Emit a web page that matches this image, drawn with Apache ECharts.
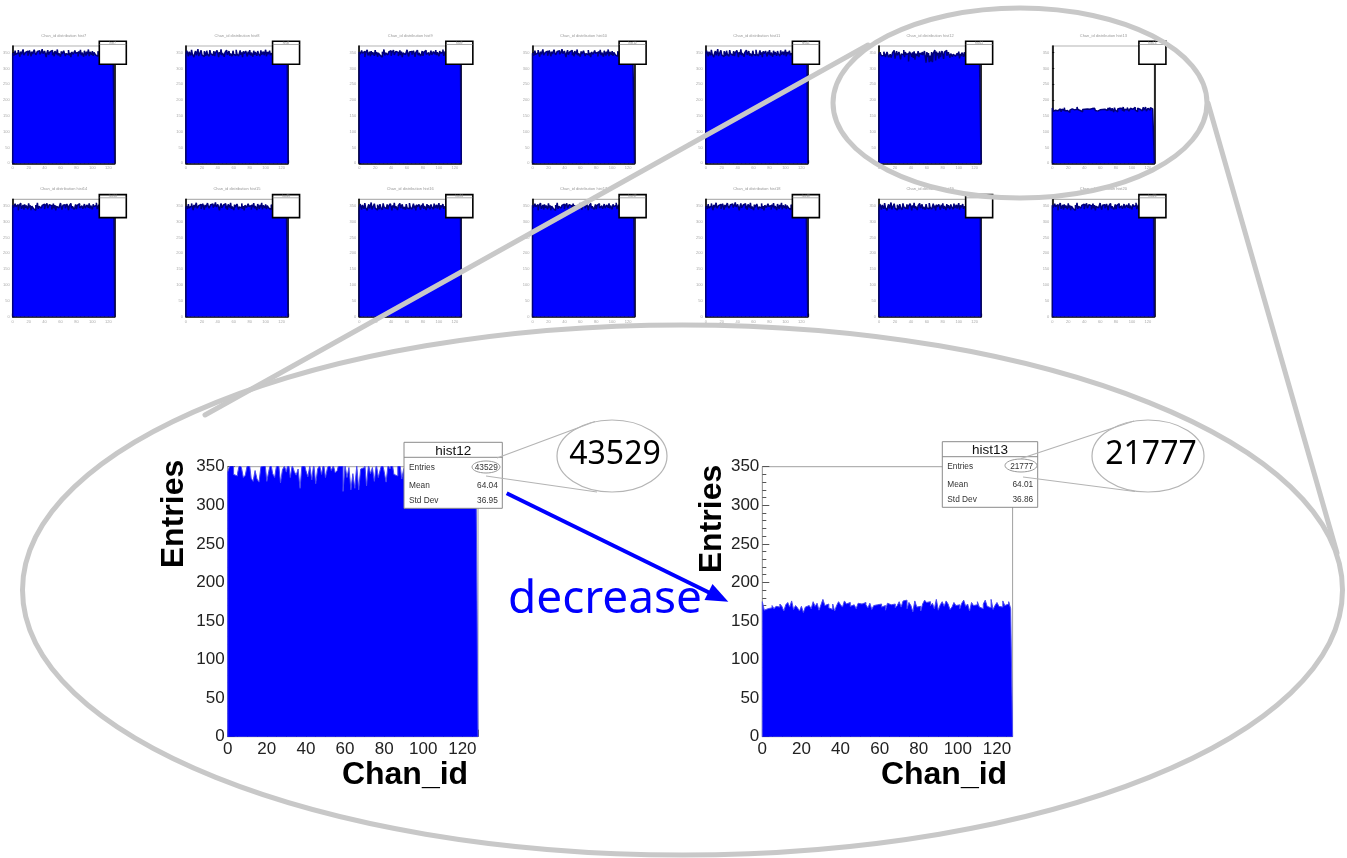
<!DOCTYPE html>
<html>
<head>
<meta charset="utf-8">
<style>
  html, body { margin: 0; padding: 0; background: #fff; }
  #chart { width: 1347px; height: 858px; }
</style>
<script src="https://cdn.jsdelivr.net/npm/echarts@6/dist/echarts.min.js"></script>
</head>
<body>
<div id="chart"></div>
<script>
// bin contents per channel (128 channels)
var hist12 = [
  343, 351, 352, 340, 338, 341, 353, 349, 336, 339, 352, 356, 335, 331, 345, 334,
  330, 350, 352, 357, 331, 344, 355, 341, 336, 352, 355, 329, 346, 351, 343, 358,
  336, 352, 344, 339, 347, 322, 353, 356, 345, 337, 351, 333, 354, 328, 347, 352,
  340, 355, 336, 348, 354, 345, 352, 342, 345, 355, 353, 318, 352, 336, 349, 320,
  341, 322, 352, 320, 347, 349, 358, 325, 353, 341, 349, 331, 354, 336, 346, 355,
  344, 330, 352, 347, 357, 340, 338, 351, 356, 334, 347, 352, 337, 345, 350, 339,
  343, 336, 348, 341, 353, 332, 346, 339, 350, 344, 337, 351, 342, 335, 348, 340,
  346, 338, 352, 341, 336, 349, 343, 347, 334, 351, 340, 345, 338, 353, 342, 336
];
var hist13 = [
  175, 164, 166, 168, 167, 170, 166, 169, 168, 172, 169, 163, 171, 174, 168, 176,
  165, 170, 167, 163, 169, 161, 168, 170, 172, 166, 175, 169, 173, 164, 171, 178,
  170, 172, 167, 165, 172, 163, 170, 175, 171, 168, 176, 172, 174, 169, 171, 170,
  166, 173, 172, 170, 174, 171, 167, 173, 165, 170, 171, 169, 172, 168, 170, 164,
  173, 171, 169, 172, 167, 170, 175, 168, 176, 177, 166, 174, 170, 162, 176, 168,
  169, 163, 172, 177, 174, 175, 170, 173, 166, 178, 164, 171, 175, 169, 176, 172,
  165, 168, 174, 170, 171, 166, 173, 177, 169, 172, 163, 174, 170, 171, 175, 168,
  166, 172, 177, 169, 167, 178, 165, 170, 174, 169, 168, 176, 170, 172, 175, 166
];
// thumbnails (too small to read bin by bin, estimated)
var smallA = [
  348, 352, 341, 356, 344, 339, 350, 358, 346, 337, 353, 345, 349, 360, 342, 336,
  351, 347, 355, 340, 344, 357, 349, 338, 353, 346, 341, 359, 350, 343, 337, 354,
  348, 356, 345, 339, 352, 361, 347, 341, 355, 349, 336, 350, 358, 344, 340, 353,
  347, 357, 342, 351, 338, 355, 349, 345, 360, 341, 348, 352, 337, 354, 346, 343,
  356, 350, 339, 347, 353, 344, 358, 341, 349, 336, 352, 355, 345, 340, 357, 348,
  343, 351, 338, 354, 347, 359, 342, 350, 345, 337, 356, 349, 341, 353, 346, 360,
  339, 352, 348, 344, 355, 340, 351, 357, 343, 347, 338, 354, 350, 345, 358, 342,
  349, 336, 353, 347, 341, 356, 344, 351, 339, 355, 348, 343, 350, 357, 340, 346
];
var smallB = [
  344, 356, 349, 338, 353, 347, 341, 359, 345, 351, 336, 348, 355, 342, 350, 361,
  339, 346, 352, 357, 343, 349, 337, 354, 348, 340, 356, 345, 351, 338, 358, 347,
  353, 341, 346, 355, 339, 350, 344, 357, 348, 336, 352, 345, 360, 342, 349, 354,
  337, 351, 346, 358, 343, 348, 355, 340, 347, 353, 338, 356, 344, 350, 341, 359,
  346, 352, 339, 348, 357, 343, 351, 336, 354, 347, 342, 355, 349, 338, 353, 345,
  358, 341, 350, 346, 337, 356, 343, 352, 348, 340, 355, 347, 351, 339, 357, 344,
  349, 353, 342, 346, 359, 338, 352, 345, 350, 356, 341, 348, 354, 343, 337, 351,
  347, 355, 340, 350, 344, 358, 346, 339, 353, 348, 342, 356, 345, 351, 338, 349
];
var smallC = [
  352, 345, 339, 357, 348, 343, 354, 336, 350, 346, 359, 341, 347, 353, 338, 355,
  344, 351, 347, 340, 358, 345, 352, 337, 349, 355, 342, 348, 336, 353, 346, 360,
  341, 349, 355, 343, 338, 352, 347, 356, 340, 350, 345, 358, 343, 337, 354, 348,
  351, 339, 346, 357, 342, 353, 336, 349, 355, 344, 350, 341, 359, 346, 338, 352,
  347, 354, 343, 340, 356, 348, 337, 351, 345, 358, 342, 349, 353, 339, 346, 355,
  340, 352, 347, 357, 344, 338, 350, 354, 341, 348, 356, 343, 337, 353, 349, 345,
  358, 342, 351, 346, 339, 355, 348, 343, 352, 360, 340, 347, 354, 338, 350, 345,
  356, 341, 349, 353, 337, 346, 352, 344, 358, 340, 348, 355, 342, 350, 347, 339
];

var smallNames = ['hist7', 'hist8', 'hist9', 'hist10', 'hist11', 'hist12', 'hist13',
                  'hist14', 'hist15', 'hist16', 'hist17', 'hist18', 'hist19', 'hist20'];
var smallData = [smallA, smallB, smallC, smallA, smallB, hist12, hist13,
                 smallC, smallA, smallB, smallC, smallA, smallB, smallC];

var statNames = ['Entries', 'Mean', 'Std Dev'];
var stats12 = ['43529', '64.04', '36.95'];
var stats13 = ['21777', '64.01', '36.86'];

var chanMax = 128, chanStep = 20;
var bigMax = 350, bigStep = 50;
var smallMax = 371;

var FONT = '"Liberation Sans", Arial, sans-serif';
var myChart = echarts.init(document.getElementById('chart'));

var grids = [], xAxes = [], yAxes = [], series = [], graphics = [];

// histogram outline: up at 0, a flat step per bin, down at the last edge
function steps(arr) {
  var pts = [[0, 0]];
  arr.forEach(function (v, i) { pts.push([i, v]); });
  pts.push([arr.length, arr[arr.length - 1]]);
  pts.push([arr.length, 0]);
  return pts;
}

// ---- 2 x 7 thumbnails ----
function thumb(k) {
  var gLeft = 12.7 + (k % 7) * 173.27;
  var gTop = [46, 199.3][Math.floor(k / 7)];
  var gi = grids.length;
  grids.push({ left: gLeft, top: gTop, width: 102, height: 117.3, show: true,
    borderColor: '#b4b4b4', borderWidth: 1.2 });
  var xi = xAxes.length;
  xAxes.push({
    type: 'value', gridIndex: gi, min: 0, max: chanMax, interval: chanStep,
    axisLine: { show: true, onZero: false, lineStyle: { color: '#000', width: 1.6 } },
    axisTick: { inside: true, length: 3, lineStyle: { color: '#000', width: 1.2 } },
    minorTick: { show: true, splitNumber: 4, length: 1.5, lineStyle: { color: '#000' } },
    splitLine: { show: false },
    axisLabel: { fontSize: 4, color: '#aaa', margin: 3, showMaxLabel: false, fontFamily: FONT }
  });
  var yi = yAxes.length;
  yAxes.push({
    type: 'value', gridIndex: gi, min: 0, max: smallMax, interval: bigStep,
    axisLine: { show: true, onZero: false, lineStyle: { color: '#000', width: 1.6 } },
    axisTick: { inside: true, length: 2, lineStyle: { color: '#000', width: 0.8 } },
    splitLine: { show: false },
    axisLabel: { fontSize: 4, color: '#aaa', margin: 3, showMaxLabel: false, fontFamily: FONT }
  });
  yAxes.push({
    type: 'value', gridIndex: gi, min: 0, max: smallMax, position: 'right',
    axisLine: { show: true, onZero: false, lineStyle: { color: '#000', width: 1.6 } },
    axisTick: { show: false }, axisLabel: { show: false }, splitLine: { show: false }
  });
  series.push({
    type: 'line', xAxisIndex: xi, yAxisIndex: yi, step: 'end', symbol: 'none',
    data: steps(smallData[k]), silent: true,
    lineStyle: { color: '#00007a', width: 1.5 },
    areaStyle: { color: '#0000ff', opacity: 1 }
  });
  // title and stat box
  graphics.push({ type: 'text', x: gLeft + 51, y: gTop - 10, z: 10,
    style: { text: 'Chan_id distribution ' + smallNames[k], font: '4px ' + FONT, fill: '#999', align: 'center', verticalAlign: 'middle' } });
  graphics.push({ type: 'rect', z: 10, shape: { x: gLeft + 86.6, y: gTop - 4.7, width: 27, height: 23 },
    style: { fill: '#fff', stroke: '#000', lineWidth: 1.6 } });
  graphics.push({ type: 'line', z: 11, shape: { x1: gLeft + 86.6, y1: gTop - 1.5, x2: gLeft + 113.6, y2: gTop - 1.5 },
    style: { stroke: '#777', lineWidth: 0.6 } });
  graphics.push({ type: 'text', x: gLeft + 100, y: gTop - 3.1, z: 11,
    style: { text: smallNames[k], font: '3px ' + FONT, fill: '#888', align: 'center', verticalAlign: 'middle' } });
}
for (var k = 0; k < 14; k++) thumb(k);

// ---- the two enlarged histograms ----
function bigHist(data, gLeft, name, stats, box, entriesPos, chanPos) {
  var gi = grids.length;
  grids.push({ left: gLeft, top: 466.7, width: 250.3, height: 270, show: true,
    borderColor: '#a0a0a0', borderWidth: 1 });
  var xi = xAxes.length;
  xAxes.push({
    type: 'value', gridIndex: gi, min: 0, max: chanMax, interval: chanStep,
    axisLine: { show: true, onZero: false, lineStyle: { color: '#a0a0a0', width: 1 } },
    axisTick: { inside: true, length: 7, lineStyle: { color: '#555', width: 1 } },
    minorTick: { show: true, splitNumber: 4, length: 4, lineStyle: { color: '#555', width: 1 } },
    splitLine: { show: false },
    axisLabel: { fontSize: 17, color: '#222', margin: 4, showMaxLabel: false, fontFamily: FONT }
  });
  var yi = yAxes.length;
  yAxes.push({
    type: 'value', gridIndex: gi, min: 0, max: bigMax, interval: bigStep,
    axisLine: { show: true, onZero: false, lineStyle: { color: '#a0a0a0', width: 1 } },
    axisTick: { inside: true, length: 7, lineStyle: { color: '#555', width: 1 } },
    minorTick: { show: true, splitNumber: 5, length: 4, lineStyle: { color: '#555', width: 1 } },
    splitLine: { show: false },
    axisLabel: { fontSize: 17, color: '#222', margin: 3, fontFamily: FONT }
  });
  series.push({
    type: 'line', xAxisIndex: xi, yAxisIndex: yi, step: 'end', symbol: 'none',
    data: steps(data), silent: true,
    lineStyle: { color: '#4a4af0', width: 1 },
    areaStyle: { color: '#0000ff', opacity: 1 }
  });

  // stat box
  graphics.push({ type: 'rect', z: 10, shape: { x: box[0], y: box[1], width: box[2], height: box[3] },
    style: { fill: '#fff', stroke: '#8a8a8a', lineWidth: 1 } });
  graphics.push({ type: 'line', z: 11, shape: { x1: box[0], y1: box[1] + 15, x2: box[0] + box[2], y2: box[1] + 15 },
    style: { stroke: '#8a8a8a', lineWidth: 1 } });
  graphics.push({ type: 'text', x: box[0] + box[2] / 2, y: box[1] + 8.5, z: 11,
    style: { text: name, font: '13.5px ' + FONT, fill: '#111', align: 'center', verticalAlign: 'middle' } });
  var rowY = [25.5, 43, 58.5];
  for (var r = 0; r < 3; r++) {
    graphics.push({ type: 'text', x: box[0] + 5, y: box[1] + rowY[r], z: 11,
      style: { text: statNames[r], font: '8.3px ' + FONT, fill: '#333', align: 'left', verticalAlign: 'middle' } });
    graphics.push({ type: 'text', x: box[0] + box[2] - 4.5, y: box[1] + rowY[r], z: 11,
      style: { text: stats[r], font: '8.3px ' + FONT, fill: '#333', align: 'right', verticalAlign: 'middle' } });
  }
  // axis titles
  graphics.push({ type: 'text', x: entriesPos[0], y: entriesPos[1], rotation: Math.PI / 2, z: 11,
    style: { text: 'Entries', font: 'bold 32px ' + FONT, fill: '#000', align: 'center', verticalAlign: 'middle' } });
  graphics.push({ type: 'text', x: chanPos[0], y: chanPos[1], z: 11,
    style: { text: 'Chan_id', font: 'bold 32px ' + FONT, fill: '#000', align: 'center', verticalAlign: 'middle' } });
}

bigHist(hist12, 227.7, 'hist12', stats12, [404, 442.3, 98.3, 66], [174, 514], [405, 775]);
bigHist(hist13, 762.3, 'hist13', stats13, [942.3, 441.7, 95.4, 65.6], [712.5, 519], [944, 775]);

// ---- magnifier ellipses and connecting lines ----
var gray = '#c8c8c8';
graphics.push({ type: 'ellipse', z: 30, shape: { cx: 682.5, cy: 590, rx: 660, ry: 265 },
  style: { fill: 'none', stroke: gray, lineWidth: 5 } });
graphics.push({ type: 'ellipse', z: 30, shape: { cx: 1020, cy: 103, rx: 187, ry: 95 },
  style: { fill: 'none', stroke: gray, lineWidth: 5 } });
graphics.push({ type: 'line', z: 30, shape: { x1: 868, y1: 45, x2: 205, y2: 415 },
  style: { stroke: gray, lineWidth: 5, lineCap: 'round' } });
graphics.push({ type: 'line', z: 30, shape: { x1: 1208, y1: 103, x2: 1337, y2: 553 },
  style: { stroke: gray, lineWidth: 5, lineCap: 'round' } });

// ---- callouts on the entries ----
function callout(small, big, upper, lower, label) {
  graphics.push({ type: 'ellipse', z: 12, shape: { cx: small[0], cy: small[1], rx: small[2], ry: small[3] },
    style: { fill: 'none', stroke: '#999', lineWidth: 1 } });
  graphics.push({ type: 'ellipse', z: 12, shape: { cx: big[0], cy: big[1], rx: big[2], ry: big[3] },
    style: { fill: '#fff', stroke: '#b4b4b4', lineWidth: 1.2 } });
  graphics.push({ type: 'line', z: 12, shape: { x1: upper[0], y1: upper[1], x2: upper[2], y2: upper[3] },
    style: { stroke: '#b4b4b4', lineWidth: 1.2 } });
  graphics.push({ type: 'line', z: 12, shape: { x1: lower[0], y1: lower[1], x2: lower[2], y2: lower[3] },
    style: { stroke: '#b4b4b4', lineWidth: 1.2 } });
  graphics.push({ type: 'text', x: big[0] + 3, y: big[1] - 1, z: 13,
    style: { text: label, font: '32px "Noto Sans", sans-serif', fill: '#000', align: 'center', verticalAlign: 'middle' } });
}
callout([486, 467, 14, 6], [612, 456, 55, 36], [497, 458, 595, 421.5], [486, 476, 597, 492], stats12[0]);
callout([1021, 465.5, 16, 6.5], [1148, 456, 56, 36], [1021, 458.5, 1134, 421], [1023, 477, 1135, 491.5], stats13[0]);

// ---- arrow + label ----
graphics.push({ type: 'line', z: 14, shape: { x1: 506.7, y1: 493.3, x2: 710, y2: 593 },
  style: { stroke: '#0000ff', lineWidth: 4 } });
graphics.push({ type: 'polygon', z: 14, shape: { points: [[728.3, 601.7], [704.5, 600.1], [712.5, 583.9]] },
  style: { fill: '#0000ff' } });
graphics.push({ type: 'text', x: 605, y: 600, z: 14,
  style: { text: 'decrease', font: '46px "Noto Sans", sans-serif', fill: '#0000ff', align: 'center', verticalAlign: 'middle' } });

var option = {
  animation: false,
  backgroundColor: '#fff',
  grid: grids,
  xAxis: xAxes,
  yAxis: yAxes,
  series: series,
  graphic: graphics
};
myChart.setOption(option);
</script>
</body>
</html>
